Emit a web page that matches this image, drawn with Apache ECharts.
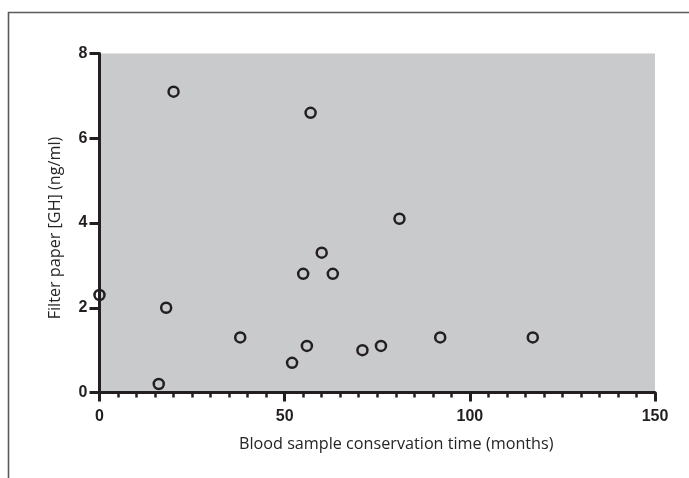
<!DOCTYPE html>
<html>
<head>
<meta charset="utf-8">
<script src="https://cdn.jsdelivr.net/npm/echarts@6/dist/echarts.min.js"></script>
<style>
html,body{margin:0;padding:0;background:#fff;}
#chart{width:689px;height:478px;}
</style>
</head>
<body>
<div id="chart"></div>
<script>
const months = [0, 16, 18, 20, 38, 52, 55, 56, 57, 60, 63, 71, 76, 81, 92, 117];
const ghValues = [2.3, 0.2, 2.0, 7.1, 1.3, 0.7, 2.8, 1.1, 6.6, 3.3, 2.8, 1.0, 1.1, 4.1, 1.3, 1.3];
const xTicks = [0, 50, 100, 150];
const yTicks = [0, 2, 4, 6, 8];
const xTitle = 'Blood sample conservation time (months)';
const yTitle = 'Filter paper [GH] (ng/ml)';

const points = months.map((m, i) => [m, ghValues[i]]);
const ink = '#231f20';
const tickFont = {fontFamily: 'Liberation Sans', fontWeight: 'bold', fontSize: 16, color: ink};
const titleFont = {fontFamily: 'Open Sans', fontSize: 16.2, color: '#252525'};

const chart = echarts.init(document.getElementById('chart'), null, {renderer: 'canvas'});
chart.setOption({
  animation: false,
  backgroundColor: '#ffffff',
  graphic: [
    {type: 'polyline', shape: {points: [[8.5, 478], [8.5, 12.5], [689, 12.5]]},
     style: {stroke: '#5a5a5a', lineWidth: 1.6, fill: null}, z: 10}
  ],
  grid: {left: 99.5, right: 34, top: 53.5, bottom: 85.5, show: true,
         backgroundColor: '#c9cacc', borderWidth: 0},
  xAxis: {
    type: 'value', min: xTicks[0], max: xTicks[xTicks.length - 1], interval: 50,
    name: xTitle, nameLocation: 'middle', nameGap: 44,
    nameTextStyle: Object.assign({padding: [0, 0, 0, 38]}, titleFont),
    axisLine: {show: true, onZero: false, lineStyle: {color: ink, width: 3}},
    axisTick: {show: true, length: 9, lineStyle: {color: ink, width: 3}},
    minorTick: {show: true, splitNumber: 10, length: 5, lineStyle: {color: ink, width: 2.5}},
    axisLabel: Object.assign({margin: 16}, tickFont),
    splitLine: {show: false}
  },
  yAxis: {
    type: 'value', min: yTicks[0], max: yTicks[yTicks.length - 1], interval: 2,
    name: yTitle, nameLocation: 'middle', nameGap: 36, nameRotate: 90,
    nameTextStyle: Object.assign({padding: [0, 10, 0, 0]}, titleFont),
    axisLine: {show: true, onZero: false, lineStyle: {color: ink, width: 3}},
    axisTick: {show: true, length: 10, lineStyle: {color: ink, width: 3}},
    axisLabel: Object.assign({margin: 12}, tickFont),
    splitLine: {show: false}
  },
  series: [{
    type: 'scatter',
    data: points,
    symbol: 'circle',
    symbolSize: 10,
    clip: false,
    z: 5,
    itemStyle: {color: 'rgba(0,0,0,0)', borderColor: ink, borderWidth: 2.5, opacity: 1}
  }]
});
</script>
</body>
</html>
